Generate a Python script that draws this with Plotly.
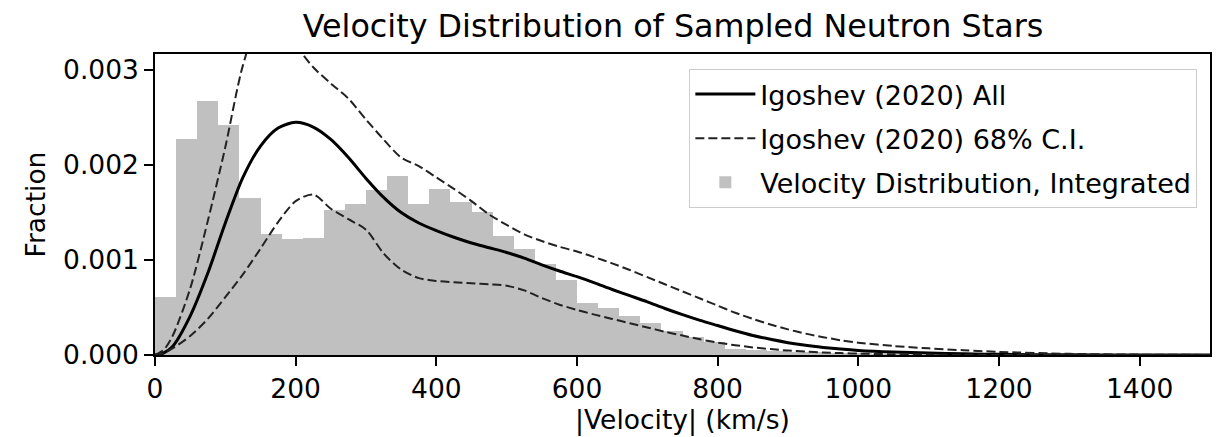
import plotly.graph_objects as go

# ---- Data ----
bin_starts = [0, 30, 60, 90, 120, 150, 180, 210, 240, 270, 300, 330, 360, 390, 420, 450,
              480, 510, 540, 570, 600, 630, 660, 690, 720, 750, 780, 810, 840, 870, 900,
              930, 960, 990, 1020, 1050]
bin_fraction = [0.00061, 0.00227, 0.00267, 0.00242, 0.00165, 0.00127, 0.00122, 0.00123,
                0.00153, 0.00159, 0.00174, 0.00189, 0.00159, 0.00175, 0.00161, 0.00151,
                0.00125, 0.00112, 0.00096, 0.00079, 0.00055, 0.00049, 0.00041, 0.00034,
                0.00025, 0.00019, 0.00014, 0.00006, 0.00005, 0.00004, 0.000035, 0.00003,
                0.00002, 0.000015, 0.00001, 0.000005]

velocity = [0, 12, 25, 50, 75, 100, 125, 150, 175, 200, 225, 250, 275, 300, 325, 350, 375,
            400, 425, 450, 475, 500, 525, 550, 575, 600, 625, 650, 675, 700, 725, 750,
            775, 800, 825, 850, 875, 900, 925, 950, 975, 1000, 1050, 1100, 1150, 1200,
            1300, 1400, 1500]
igoshev_all = [0, 0.00002, 0.00009, 0.00041, 0.00086, 0.00139, 0.00187, 0.00220, 0.00239,
               0.00245, 0.00240, 0.00227, 0.00208, 0.00186, 0.00166, 0.00150, 0.00139,
               0.00131, 0.00124, 0.00118, 0.00113, 0.00108, 0.00102, 0.00095, 0.000885,
               0.000825, 0.00076, 0.00069, 0.000625, 0.00056, 0.00049, 0.000425, 0.000365,
               0.00031, 0.000255, 0.000205, 0.000165, 0.00013, 0.000102, 0.00008, 0.000062,
               0.000048, 0.000031, 0.00002, 0.000012, 0.000007, 0.000002, 0.0000005, 0]
igoshev_upper = [0, 0.00005, 0.00020, 0.00070, 0.00141, 0.00219, 0.00305, 0.00355, 0.00362,
                 0.00327, 0.00303, 0.00286, 0.00270, 0.00248, 0.00227, 0.00208, 0.00199,
                 0.00187, 0.00175, 0.00162, 0.00148, 0.00137, 0.00127, 0.00120, 0.00114,
                 0.00109, 0.00103, 0.000965, 0.000895, 0.00082, 0.000745, 0.00067, 0.000595,
                 0.00052, 0.000445, 0.00038, 0.000322, 0.00027, 0.000225, 0.000188,
                 0.000155, 0.00013, 0.000095, 0.00007, 0.00005, 0.000033, 0.000012,
                 0.000004, 0.000001]
igoshev_lower = [0, 0.00002, 0.00007, 0.00020, 0.00038, 0.00061, 0.00085, 0.00112, 0.00140,
                 0.00162, 0.00169, 0.00154, 0.00143, 0.00132, 0.00107, 0.00090, 0.00081,
                 0.00078, 0.000765, 0.000755, 0.000745, 0.00073, 0.00068, 0.00060, 0.00053,
                 0.000475, 0.000425, 0.00038, 0.000335, 0.00029, 0.000245, 0.000205,
                 0.000165, 0.00013, 0.000103, 0.00008, 0.000062, 0.000047, 0.000036,
                 0.000027, 0.00002, 0.000015, 0.000008, 0.000004, 0.000002, 0.000001,
                 0, 0, 0]

x_ticks = [0, 200, 400, 600, 800, 1000, 1200, 1400]
y_ticks = [0.0, 0.001, 0.002, 0.003]

FONT = "DejaVu Sans"

fig = go.Figure()

fig.add_trace(go.Bar(
    x=bin_starts, y=bin_fraction, width=30, offset=0,
    marker=dict(color="#c0c0c0", line=dict(width=0)),
    name="Velocity Distribution, Integrated",
    legendgroup="c", legendrank=3,
))
fig.add_trace(go.Scatter(
    x=velocity, y=igoshev_all, mode="lines",
    line=dict(color="black", width=3, shape="spline", smoothing=0.8),
    name="Igoshev (2020) All", legendgroup="a", legendrank=1,
))
fig.add_trace(go.Scatter(
    x=velocity, y=igoshev_upper, mode="lines",
    line=dict(color="#222222", width=2, dash="9px,4px", shape="spline", smoothing=0.8),
    name="Igoshev (2020) 68% C.I.", legendgroup="b", legendrank=2,
))
fig.add_trace(go.Scatter(
    x=velocity, y=igoshev_lower, mode="lines",
    line=dict(color="#222222", width=2, dash="9px,4px", shape="spline", smoothing=0.8),
    name="Igoshev (2020) 68% C.I.", legendgroup="b", showlegend=False,
))

axis_common = dict(
    showline=True, linecolor="black", linewidth=1.6, mirror=True,
    ticks="outside", ticklen=9, tickwidth=1.6, tickcolor="black",
    showgrid=False, zeroline=False,
    tickfont=dict(family=FONT, size=26.5, color="black"),
    title_font=dict(family=FONT, size=26.5, color="black"),
)

fig.update_layout(
    width=1219, height=437,
    margin=dict(l=155, r=7, t=54, b=82),
    paper_bgcolor="white", plot_bgcolor="white",
    bargap=0,
    title=dict(text="Velocity Distribution of Sampled Neutron Stars",
               font=dict(family=FONT, size=31.8, color="black"),
               x=0.491, xanchor="center", xref="paper",
               y=0.94, yanchor="middle", yref="container"),
    xaxis=dict(range=[0, 1500], tickvals=x_ticks,
               ticktext=[str(t) for t in x_ticks],
               title=dict(text="|Velocity| (km/s)", standoff=8), **axis_common),
    yaxis=dict(range=[0, 0.00317], tickvals=y_ticks,
               ticktext=[f"{t:.3f}" for t in y_ticks],
               title=dict(text="Fraction", standoff=10), **axis_common),
    legend=dict(x=0.988, y=0.95, xanchor="right", yanchor="top",
                bgcolor="rgba(255,255,255,0.85)", bordercolor="#cccccc", borderwidth=1,
                font=dict(family=FONT, size=27, color="black"),
                tracegroupgap=6, itemwidth=60),
    showlegend=True,
)

fig.write_html("out.html")
